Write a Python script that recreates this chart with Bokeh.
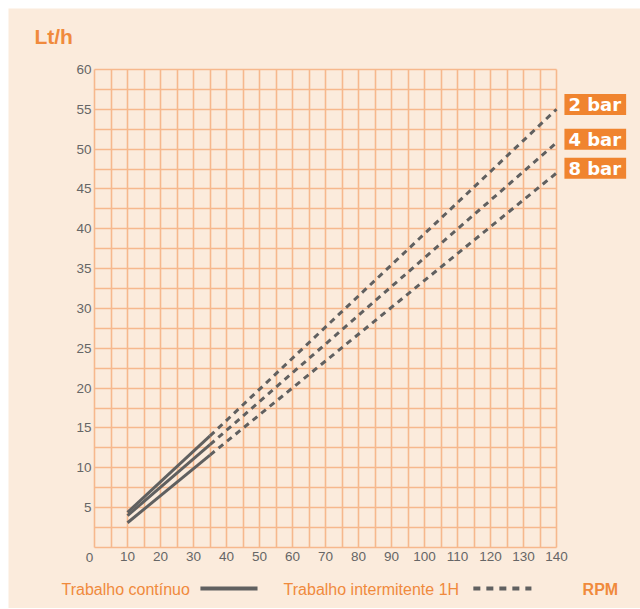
from bokeh.plotting import figure
from bokeh.models import Label, Arrow, FixedTicker, SingleIntervalTicker, Range1d
from bokeh.embed import file_html
from bokeh.resources import INLINE

# Data
rpm_cont = [10, 35]
rpm_int = [35, 140]
bar_2_cont = [4.4, 14.0]
bar_2_int = [14.0, 55.0]
bar_4_cont = [4.0, 12.9]
bar_4_int = [12.9, 50.8]
bar_8_cont = [3.1, 11.6]
bar_8_int = [11.6, 47.0]
series_labels = ["2 bar", "4 bar", "8 bar"]
series_label_y = [55.6, 51.25, 47.6]
x_ticks = list(range(10, 141, 10))
y_ticks = list(range(5, 61, 5))

BG = "#FBEBDC"
GRID = "#F6B88D"
ORANGE = "#F08A3C"
BOX = "#F0842F"
GREY = "#606060"
TICK = "#666666"
FONT = "Liberation Sans"

p = figure(width=632, height=600, output_backend="svg", toolbar_location=None,
           x_range=Range1d(-26.06, 165.45), y_range=Range1d(-7.66, 67.65),
           min_border=0, margin=(8, 0, 0, 8))
p.background_fill_color = BG
p.border_fill_color = BG
p.outline_line_color = None

p.xgrid.ticker = SingleIntervalTicker(interval=5)
p.ygrid.ticker = SingleIntervalTicker(interval=2.5)
p.xgrid.bounds = (0, 140)
p.xgrid.cross_bounds = (0, 60)
p.ygrid.bounds = (0, 60)
p.ygrid.cross_bounds = (0, 140)
for g in (p.xgrid, p.ygrid):
    g.grid_line_color = GRID
    g.grid_line_width = 1.6

p.xaxis.ticker = FixedTicker(ticks=x_ticks)
p.yaxis.ticker = FixedTicker(ticks=y_ticks)
p.xaxis.fixed_location = 0
p.yaxis.fixed_location = 0
p.xaxis.bounds = (0, 140)
p.yaxis.bounds = (0, 60)
for ax in (p.xaxis, p.yaxis):
    ax.axis_line_color = None
    ax.major_tick_line_color = None
    ax.minor_tick_line_color = None
    ax.major_tick_out = 0
    ax.major_tick_in = 0
    ax.minor_tick_out = 0
    ax.minor_tick_in = 0
    ax.major_label_text_color = TICK
    ax.major_label_text_font = FONT
    ax.major_label_text_font_size = "13.5px"
p.xaxis.major_label_standoff = 5
p.yaxis.major_label_standoff = 3

# Lines
for cont, inter in ((bar_2_cont, bar_2_int), (bar_4_cont, bar_4_int), (bar_8_cont, bar_8_int)):
    p.line(rpm_cont, cont, line_color=GREY, line_width=3)
    p.line(rpm_int, inter, line_color=GREY, line_width=3, line_dash="6 5")

# Origin label
p.add_layout(Label(x=-1.5, y=-1.32, text="0", text_align="center", text_baseline="middle",
                   text_color=TICK, text_font=FONT, text_font_size="13.5px"))

# Title
p.add_layout(Label(x=-18.2, y=64.14, text="Lt/h", text_align="left", text_baseline="middle",
                   text_color=ORANGE, text_font=FONT, text_font_size="21px", text_font_style="bold"))

# Series labels
for lab, yy in zip(series_labels, series_label_y):
    p.add_layout(Label(x=142.4, y=yy, text=lab, text_align="left", text_baseline="middle",
                       text_color="white", text_font="DejaVu Sans", text_font_size="18px",
                       text_font_style="bold", background_fill_color=BOX,
                       padding=dict(left=4, right=5, top=0, bottom=0)))

# Legend
p.add_layout(Label(x=-10, y=-5.3, text="Trabalho contínuo", text_align="left",
                   text_baseline="middle", text_color=ORANGE, text_font=FONT,
                   text_font_size="16px"))
p.add_layout(Arrow(end=None, x_start=32.1, y_start=-5.14, x_end=49.4, y_end=-5.14,
                   line_color=GREY, line_width=4))
p.add_layout(Label(x=57.3, y=-5.3, text="Trabalho intermitente 1H", text_align="left",
                   text_baseline="middle", text_color=ORANGE, text_font=FONT,
                   text_font_size="16px"))
p.add_layout(Arrow(end=None, x_start=114.8, y_start=-5.14, x_end=132.4, y_end=-5.14,
                   line_color=GREY, line_width=4, line_dash="7 6"))
p.add_layout(Label(x=147.9, y=-5.3, text="RPM", text_align="left",
                   text_baseline="middle", text_color=ORANGE, text_font=FONT,
                   text_font_size="16px", text_font_style="bold"))

open("out.html", "w").write(file_html(p, INLINE))
